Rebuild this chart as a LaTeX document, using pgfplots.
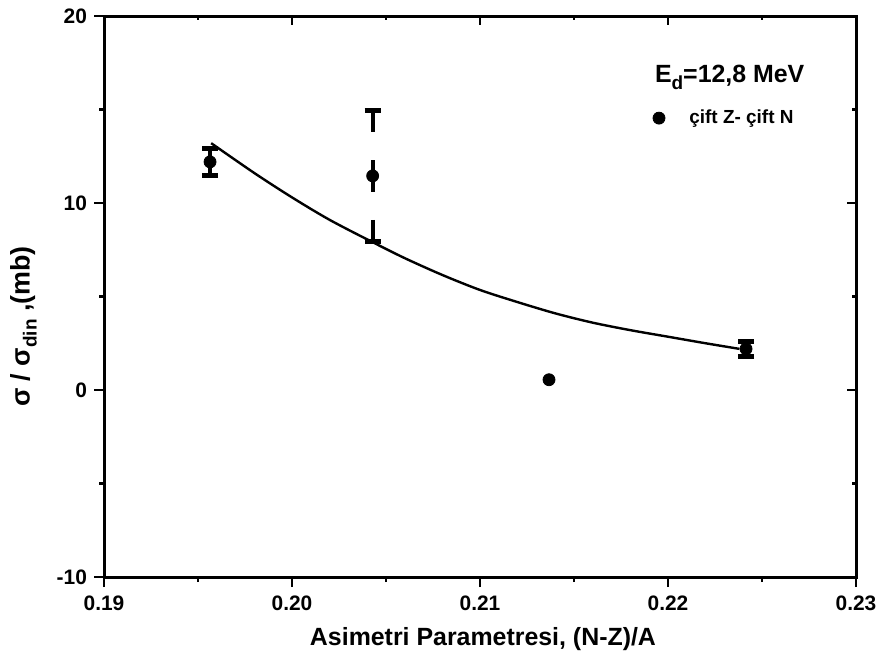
\documentclass[border=0pt]{standalone}
\usepackage{fontspec}
\setmainfont{Liberation Sans}
\usepackage{pgfplots}
\pgfplotsset{compat=1.18}

% measured points: x, y, symmetric y error
\pgfplotstableread{
x        y      ey
0.19564  12.20  0.72
0.22415  2.20   0.40
}\solidpts
\pgfplotstableread{
x        y      ey
0.20429  11.45  3.50
}\dashpts
\pgfplotstableread{
x        y
0.21367  0.55
}\plainpts
% fitted curve
\pgfplotstableread{
x       y
0.1957  13.20
0.1980  11.60
0.2000  10.30
0.2020  9.10
0.2043  7.90
0.2060  7.05
0.2080  6.15
0.2100  5.35
0.2120  4.70
0.2140  4.10
0.2160  3.60
0.2180  3.20
0.2200  2.85
0.2220  2.50
0.2238  2.20
}\fitcurve

\pgfplotsset{
  frame/.style={
    scale only axis, width=376bp, height=280.5bp,
    xmin=0.19, xmax=0.23, ymin=-10, ymax=20,
    axis line style={line width=1.5bp},
    xtick={0.19,0.20,0.21,0.22,0.23},
    ytick={-10,0,10,20},
    minor xtick={0.195,0.205,0.215,0.225},
    minor ytick={-5,5,15},
    every tick/.style={line width=1.1bp, black},
  },
  caps/.style={
    error bars/.cd, y dir=both, y explicit,
    error mark=-,
    error mark options={line width=2.6bp, mark size=4bp, black, solid, rotate=90},
    /pgfplots/.cd,
  },
  dot/.style={only marks, mark=*, mark size=3bp, black, mark options={fill=black}},
}

\begin{document}
\begin{tikzpicture}
% ticks on top and right, pointing inwards
\begin{axis}[frame,
  xtick pos=top, ytick pos=right, tick align=inside,
  major tick length=4.5bp, minor tick length=2bp,
  xticklabels={}, yticklabels={},
]
\end{axis}
\begin{axis}[frame, name=main,
  xtick pos=bottom, ytick pos=left, tick align=outside,
  major tick length=5bp, minor tick length=2.5bp,
  xticklabels={0.19,0.20,0.21,0.22,0.23},
  yticklabels={-10,0,10,20},
  tick label style={font=\bfseries\fontsize{10.5}{12}\selectfont},
  xticklabel style={yshift=-1bp},
  xlabel={Asimetri Parametresi, (N-Z)/A},
  ylabel={σ / σ\raisebox{-0.5ex}{\fontsize{9.5}{10}\selectfont din} ,(mb)},
  xlabel style={font=\bfseries\fontsize{12.5}{14}\selectfont,
    at={(axis description cs:0.504,-0.1212)}, anchor=base},
  ylabel style={font=\bfseries\fontsize{13.5}{15}\selectfont,
    at={(axis description cs:-0.107,0.4465)}, anchor=center},
  legend style={draw=none, fill=none, at={(axis description cs:0.729,0.818)}, anchor=west,
    font=\bfseries\fontsize{9.5}{10}\selectfont, inner sep=0pt},
  legend cell align=left,
  legend image code/.code={\draw[only marks, mark=*, mark size=3bp] plot coordinates {(0bp,0bp)}; \path (-3bp,0) (13bp,0);},
]
\addplot[black, line width=1.2bp, smooth, forget plot] table[x=x, y=y] {\fitcurve};
\addplot[dot, caps, error bars/error bar style={line width=2bp}]
  table[x=x, y=y, y error=ey] {\solidpts};
\addlegendentry{çift Z- çift N}
\addplot[dot, forget plot, caps,
  error bars/error bar style={line width=2bp, dash pattern=on 8bp off 14bp on 22bp}]
  table[x=x, y=y, y error=ey] {\dashpts};
\addplot[dot, forget plot] table[x=x, y=y] {\plainpts};
\node[anchor=base west, font=\bfseries\fontsize{12.5}{14}\selectfont]
  at (rel axis cs:0.7234,0.882) {E\raisebox{-0.55ex}{\fontsize{9.5}{10}\selectfont d}=12,8 MeV};
\end{axis}
\pgfresetboundingbox
\path[use as bounding box] ([xshift=-52bp,yshift=-44.5bp]main.south west)
  rectangle ([xshift=11bp,yshift=8bp]main.north east);
\end{tikzpicture}
\end{document}
